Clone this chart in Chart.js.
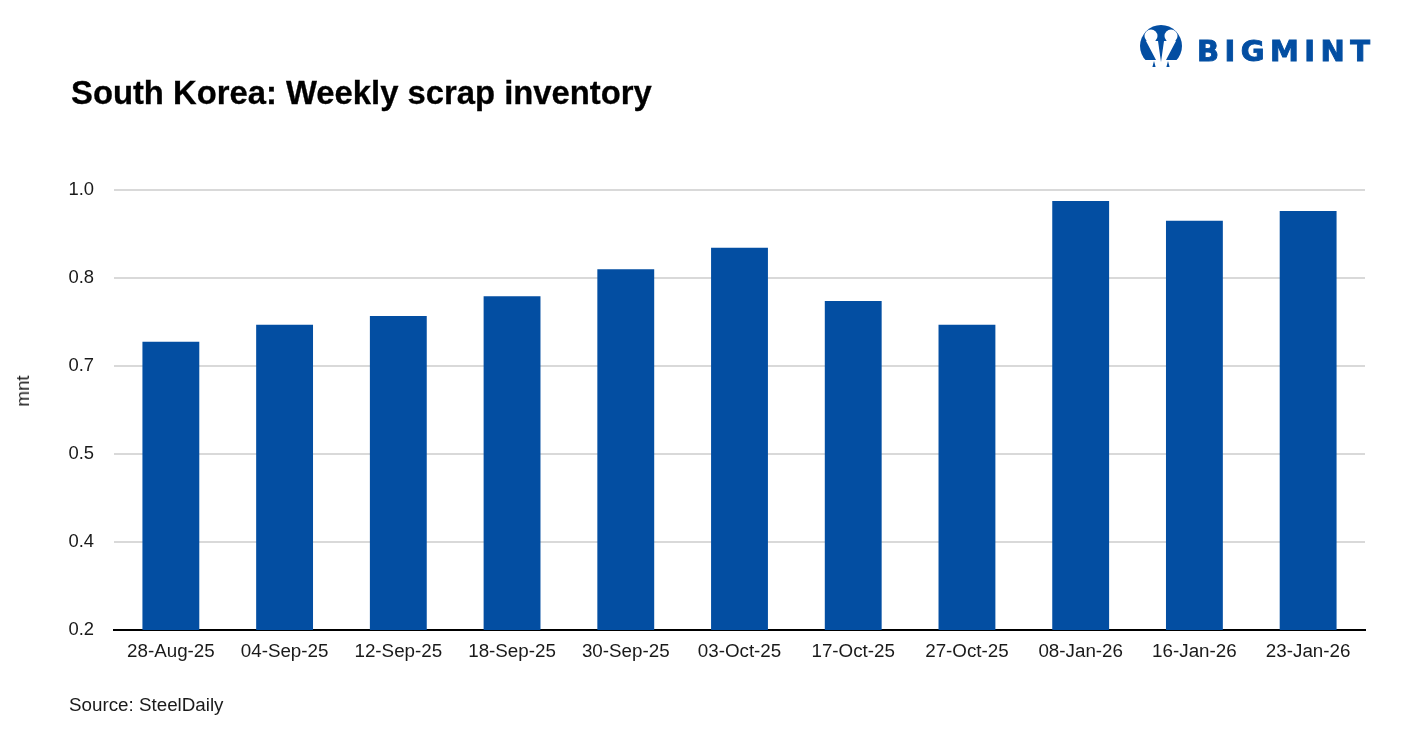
<!DOCTYPE html>
<html>
<head>
    <title>South Korea: Weekly scrap inventory</title>
    <script src="https://cdn.jsdelivr.net/npm/chart.js"></script>
    <style>
        html, body { margin: 0; padding: 0; background: #fff; }
        #wrap { position: relative; width: 1412px; height: 744px; overflow: hidden; font-family: "Liberation Sans", sans-serif; }
        #myChart { position: absolute; left: 0; top: 0; }
        .txt { position: absolute; white-space: nowrap; color: #000; }
        #title { left: 71px; top: 73px; font-size: 32.8px; font-weight: bold; line-height: 40px; -webkit-text-stroke: 0.3px #000; }
        #source { left: 69px; top: 694px; font-size: 18.8px; line-height: 22px; color: #1a1a1a; }
        #unit { left: 23px; top: 391px; font-size: 18.8px; line-height: 18px; color: #1a1a1a; transform: translate(-50%, -50%) rotate(-90deg); }
        #logo { position: absolute; left: 1130px; top: 18px; }
    </style>
</head>
<body>
<div id="wrap">
    <canvas id="myChart" width="1412" height="744"></canvas>
    <div class="txt" id="title">South Korea: Weekly scrap inventory</div>
    <div class="txt" id="unit">mnt</div>
    <div class="txt" id="source">Source: SteelDaily</div>
    <svg id="logo" width="250" height="56" viewBox="1130 18 250 56">
        <circle cx="1161" cy="46" r="21" fill="#034ea2"/>
        <path d="M1146 41H1158L1161 62L1164 41H1176L1166 60H1183V70H1139V60H1156Z" fill="#fff"/>
        <circle cx="1151" cy="36" r="6.5" fill="#fff"/>
        <circle cx="1171" cy="36" r="6.5" fill="#fff"/>
        <path d="M1154 61l1.6 6h-3.2zM1168 61l1.6 6h-3.2z" fill="#034ea2"/>
        <text x="1197" y="61" font-family="DejaVu Sans" font-weight="bold" font-size="29" textLength="173" lengthAdjust="spacing" stroke="#034ea2" stroke-width="0.9" fill="#034ea2">BIGMINT</text>
    </svg>
</div>
<script>
    const categories = ['28-Aug-25', '04-Sep-25', '12-Sep-25', '18-Sep-25', '30-Sep-25', '03-Oct-25', '17-Oct-25', '27-Oct-25', '08-Jan-26', '16-Jan-26', '23-Jan-26'];
    const inventory = [0.724, 0.755, 0.771, 0.807, 0.856, 0.895, 0.798, 0.755, 0.98, 0.944, 0.962];
    const yTickLabels = ['0.2', '0.4', '0.5', '0.7', '0.8', '1.0'];

    const ctx = document.getElementById('myChart').getContext('2d');
    Chart.defaults.font.family = '"Liberation Sans", sans-serif';

    new Chart(ctx, {
        type: 'bar',
        data: {
            labels: categories,
            datasets: [{
                data: inventory,
                backgroundColor: '#034ea2',
                barPercentage: 0.5,
                categoryPercentage: 1.0
            }]
        },
        options: {
            responsive: false,
            animation: false,
            layout: { padding: { top: 190, right: 47, left: 0, bottom: 0 } },
            plugins: { legend: { display: false }, tooltip: { enabled: false } },
            scales: {
                x: {
                    afterFit: scale => { scale.height = 114; },
                    grid: { display: false },
                    border: { display: true, color: '#000', width: 2 },
                    ticks: { color: '#1a1a1a', font: { size: 18.8 }, padding: 3, maxRotation: 0, autoSkip: false }
                },
                y: {
                    min: 0.2,
                    max: 1.0,
                    afterFit: scale => { scale.width = 114; },
                    border: { display: false },
                    grid: { color: '#d9d9d9', lineWidth: 2, drawTicks: false },
                    ticks: {
                        stepSize: 0.16,
                        color: '#1a1a1a',
                        font: { size: 18.4 },
                        padding: 20,
                        callback: (v, i) => yTickLabels[i]
                    }
                }
            }
        }
    });
</script>
</body>
</html>
